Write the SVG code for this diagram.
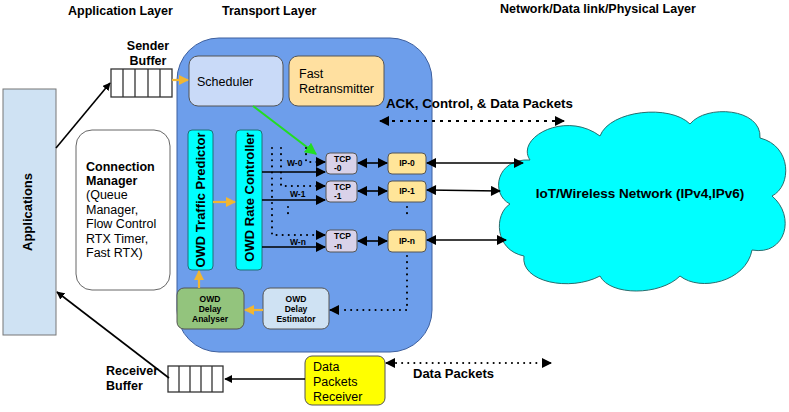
<svg xmlns="http://www.w3.org/2000/svg" width="789" height="412" viewBox="0 0 789 412">
<style>
text{font-family:"Liberation Sans",Arial,sans-serif;fill:#000}
.b{font-weight:bold}
.hdr{font-size:12.5px;font-weight:bold}
.blk{stroke:#000;stroke-width:1.6;fill:none}
.dot{stroke:#000;stroke-width:2;stroke-dasharray:0.1,6;stroke-linecap:round;fill:none}
.org{stroke:#f1b632;stroke-width:2.2;fill:none}
.cell{fill:#fff;stroke:#333;stroke-width:1.3}
</style>
<defs>
<marker id="ah" viewBox="0 0 10 10" refX="9" refY="5" markerWidth="8" markerHeight="8" markerUnits="userSpaceOnUse" orient="auto-start-reverse"><path d="M0,0 L10,5 L0,10 z" fill="#000"/></marker>
<marker id="ahL" viewBox="0 0 10 10" refX="9" refY="5" markerWidth="14" markerHeight="10" markerUnits="userSpaceOnUse" orient="auto-start-reverse"><path d="M0,0 L10,5 L0,10 z" fill="#000"/></marker>
<marker id="ao" viewBox="0 0 10 10" refX="9" refY="5" markerWidth="10" markerHeight="10" markerUnits="userSpaceOnUse" orient="auto"><path d="M0,0 L10,5 L0,10 z" fill="#f1b632"/></marker>
<marker id="ag" viewBox="0 0 10 10" refX="9" refY="5" markerWidth="12" markerHeight="12" markerUnits="userSpaceOnUse" orient="auto"><path d="M0,0 L10,5 L0,10 z" fill="#22dd22"/></marker>
</defs>
<rect width="789" height="412" fill="#fff"/>

<text class="hdr" x="68" y="15">Application Layer</text>
<text class="hdr" x="222" y="15">Transport Layer</text>
<text class="hdr" x="500" y="13">Network/Data link/Physical Layer</text>

<g id="transport">
<rect x="177" y="38" width="255" height="314" rx="42" fill="#6d9eeb" stroke="#3d5f9e" stroke-width="1"/>
</g>

<g id="applications">
<rect x="3" y="89" width="53" height="246" fill="#cfe2f3" stroke="#777" stroke-width="1"/>
<text class="b" font-size="13" transform="translate(32,212) rotate(-90)" text-anchor="middle">Applications</text>
</g>

<g id="connection-manager">
<rect x="76" y="130" width="94" height="160" rx="16" fill="#fff" stroke="#666" stroke-width="1"/>
<text font-size="12.5" x="86"><tspan class="b" x="86" y="171">Connection</tspan><tspan class="b" x="86" y="185">Manager</tspan><tspan x="86" y="199">(Queue</tspan><tspan x="86" y="214">Manager,</tspan><tspan x="86" y="228">Flow Control</tspan><tspan x="86" y="243">RTX Timer,</tspan><tspan x="86" y="257">Fast RTX)</tspan></text>
</g>

<g id="sender-buffer">
<text class="hdr" x="148" y="50" text-anchor="middle">Sender</text>
<text class="hdr" x="148" y="65" text-anchor="middle">Buffer</text>
<rect class="cell" x="111" y="69" width="61" height="28"/>
<path d="M123,69V97M135,69V97M148,69V97M160,69V97" stroke="#333" stroke-width="1.3"/>
</g>

<g id="receiver-buffer">
<text class="hdr" x="106" y="375">Receiver</text>
<text class="hdr" x="106" y="390">Buffer</text>
<rect class="cell" x="168" y="366" width="55" height="26"/>
<path d="M179,366V392M190,366V392M201,366V392M212,366V392" stroke="#333" stroke-width="1.3"/>
</g>

<g id="scheduler">
<rect x="189" y="56" width="94" height="50" rx="9" fill="#c9daf8" stroke="#555"/>
<text font-size="12.5" x="197" y="86">Scheduler</text>
</g>

<g id="fast-retransmitter">
<rect x="289" y="56" width="95" height="50" rx="9" fill="#ffe0a0" stroke="#555"/>
<text font-size="12.5" x="299" y="78">Fast</text>
<text font-size="12.5" x="299" y="93">Retransmitter</text>
</g>

<g id="owd-traffic-predictor">
<rect x="188" y="130" width="25" height="140" rx="4" fill="#00ffff" stroke="#1f6f78"/>
<text class="b" font-size="13" transform="translate(205,200) rotate(-90)" text-anchor="middle">OWD Traffic Predictor</text>
</g>

<g id="owd-rate-controller">
<rect x="236" y="130" width="26" height="140" rx="4" fill="#00ffff" stroke="#1f6f78"/>
<text class="b" font-size="13" transform="translate(254,197) rotate(-90)" text-anchor="middle">OWD Rate Controller</text>
</g>

<g id="tcp-0"><rect x="326" y="153" width="31" height="21" rx="4" fill="#d9d2e9" stroke="#555"/><text class="b" font-size="8.5" x="334" y="162">TCP</text><text class="b" font-size="8.5" x="334" y="171">-0</text></g>
<g id="tcp-1"><rect x="326" y="181" width="31" height="21" rx="4" fill="#d9d2e9" stroke="#555"/><text class="b" font-size="8.5" x="334" y="190">TCP</text><text class="b" font-size="8.5" x="334" y="199">-1</text></g>
<g id="tcp-n"><rect x="326" y="230" width="31" height="22" rx="4" fill="#d9d2e9" stroke="#555"/><text class="b" font-size="8.5" x="334" y="239">TCP</text><text class="b" font-size="8.5" x="334" y="249">-n</text></g>

<g id="ip-0"><rect x="388" y="153" width="38" height="21" rx="4" fill="#ffe599" stroke="#555"/><text class="b" font-size="8.5" x="407" y="166" text-anchor="middle">IP-0</text></g>
<g id="ip-1"><rect x="388" y="181" width="38" height="21" rx="4" fill="#ffe599" stroke="#555"/><text class="b" font-size="8.5" x="407" y="194" text-anchor="middle">IP-1</text></g>
<g id="ip-n"><rect x="388" y="230" width="38" height="22" rx="4" fill="#ffe599" stroke="#555"/><text class="b" font-size="8.5" x="407" y="244" text-anchor="middle">IP-n</text></g>

<g id="owd-delay-analyser">
<rect x="177" y="288" width="67" height="41" rx="7" fill="#93c47d" stroke="#555"/>
<text class="b" font-size="8.5" text-anchor="middle"><tspan x="210" y="302">OWD</tspan><tspan x="210" y="312">Delay</tspan><tspan x="210" y="322">Analyser</tspan></text>
</g>

<g id="owd-delay-estimator">
<rect x="263" y="288" width="66" height="41" rx="7" fill="#cfe2f3" stroke="#555"/>
<text class="b" font-size="8.5" text-anchor="middle"><tspan x="296" y="302">OWD</tspan><tspan x="296" y="312">Delay</tspan><tspan x="296" y="322">Estimator</tspan></text>
</g>

<g id="data-packets-receiver">
<rect x="305" y="356" width="80" height="49" rx="7" fill="#ffff00" stroke="#555"/>
<text font-size="12.5"><tspan x="313" y="371">Data</tspan><tspan x="313" y="386">Packets</tspan><tspan x="313" y="401">Receiver</tspan></text>
</g>

<g id="network">
<path d="M530,160 C515,138 565,110 600,136 C610,110 670,104 690,124 C706,104 762,108 760,138 C792,146 792,186 772,196 C796,216 786,256 752,250 C746,282 700,292 680,276 C660,296 610,296 600,276 C570,292 520,282 524,256 C494,250 494,214 510,204 C490,194 496,158 530,160 Z" fill="#00ffff" stroke="#2a6d6d" stroke-width="1"/>
<text class="b" font-size="13.5" x="640" y="198" text-anchor="middle">IoT/Wireless Network (IPv4,IPv6)</text>
</g>

<text class="b" font-size="13.3" x="386" y="108">ACK, Control, &amp; Data Packets</text>
<text class="b" font-size="13" x="413" y="378">Data Packets</text>

<g id="connectors">
<line class="blk" x1="56" y1="148" x2="110" y2="83" marker-end="url(#ah)"/>
<line class="blk" x1="169" y1="378" x2="57" y2="292" marker-end="url(#ah)"/>
<line class="blk" x1="305" y1="379" x2="225" y2="379" marker-end="url(#ah)"/>
<line class="org" x1="172" y1="80" x2="188" y2="80" marker-end="url(#ao)"/>
<line class="org" x1="213" y1="202" x2="235" y2="202" marker-end="url(#ao)"/>
<line class="org" x1="199" y1="288" x2="199" y2="271" marker-end="url(#ao)"/>
<line class="org" x1="263" y1="310" x2="245" y2="310" marker-end="url(#ao)"/>
<line x1="253" y1="106" x2="316" y2="154" stroke="#22dd22" stroke-width="2" marker-end="url(#ag)"/>
<line class="blk" x1="262" y1="172" x2="325" y2="172" marker-end="url(#ahL)"/>
<line class="blk" x1="262" y1="200" x2="325" y2="200" marker-end="url(#ahL)"/>
<line class="blk" x1="262" y1="247" x2="325" y2="247" marker-end="url(#ahL)"/>
<path class="dot" d="M272,148V235H318"/>
<path class="dot" d="M281,148V186H318"/>
<path class="dot" d="M306,148V162H318"/>
<path class="dot" d="M288,207V216M407,207V216"/>
<line x1="316" y1="162" x2="325" y2="162" class="blk" marker-end="url(#ahL)"/>
<line x1="316" y1="186" x2="325" y2="186" class="blk" marker-end="url(#ahL)"/>
<line x1="316" y1="235" x2="325" y2="235" class="blk" marker-end="url(#ahL)"/>
<text class="b" font-size="8.5" x="287" y="166">W-0</text>
<text class="b" font-size="8.5" x="290" y="197">W-1</text>
<text class="b" font-size="8.5" x="290" y="245">W-n</text>
<line class="blk" x1="358" y1="163" x2="387" y2="163" marker-start="url(#ahL)" marker-end="url(#ahL)"/>
<line class="blk" x1="358" y1="191" x2="387" y2="191" marker-start="url(#ahL)" marker-end="url(#ahL)"/>
<line class="blk" x1="358" y1="241" x2="387" y2="241" marker-start="url(#ahL)" marker-end="url(#ahL)"/>
<line class="blk" x1="427" y1="163" x2="523" y2="163" marker-start="url(#ahL)" marker-end="url(#ahL)"/>
<line class="blk" x1="427" y1="190" x2="500" y2="191" marker-start="url(#ahL)" marker-end="url(#ahL)"/>
<line class="blk" x1="427" y1="240" x2="506" y2="240" marker-start="url(#ahL)" marker-end="url(#ahL)"/>
<path class="dot" d="M407,256V310H340"/>
<line class="blk" x1="338" y1="310" x2="330" y2="310" marker-end="url(#ahL)"/>
<line x1="384" y1="121" x2="558" y2="121" stroke="#000" stroke-width="1.8" stroke-dasharray="3,5"/>
<line x1="387" y1="121" x2="380" y2="121" class="blk" marker-end="url(#ahL)"/>
<line x1="556" y1="121" x2="564" y2="121" class="blk" marker-end="url(#ahL)"/>
<path class="dot" d="M396,363H542"/>
<line x1="392" y1="363" x2="386" y2="363" class="blk" marker-end="url(#ahL)"/>
<line x1="544" y1="363" x2="551" y2="363" class="blk" marker-end="url(#ahL)"/>
</g>
</svg>
